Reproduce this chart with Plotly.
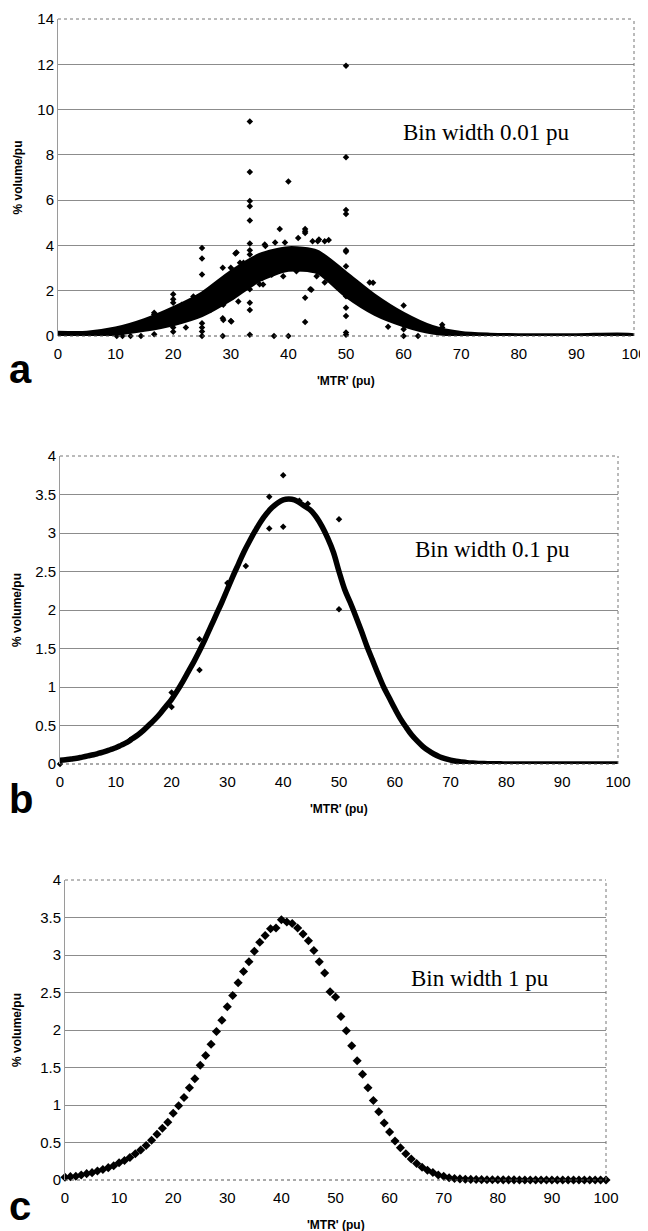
import plotly.graph_objects as go

# ---- panel a : bin width 0.01 pu (dense band + scattered outliers)
a_band_x = [0, 5, 10, 15, 20, 25, 30, 35, 40, 45, 50, 55, 60, 65, 70, 75, 80, 90, 100]
a_band_lo = [0.0, 0.02, 0.08, 0.25, 0.5, 0.9, 1.6, 2.45, 2.9, 2.8, 1.75, 0.95, 0.45, 0.13, 0.02, 0.0, 0.0, 0.0, 0.0]
a_band_hi = [0.17, 0.17, 0.35, 0.72, 1.25, 1.9, 2.85, 3.6, 3.9, 3.75, 2.8, 1.8, 1.0, 0.42, 0.15, 0.08, 0.06, 0.06, 0.06]

a_out_x = [33.3, 33.3, 33.3, 33.3, 33.3, 33.3, 33.3, 33.3, 33.3, 33.3, 33.3, 33.3, 33.3,
           40, 40,
           50, 50, 50, 50, 50, 50, 50, 50, 50, 50, 50, 50, 50, 50,
           25, 25, 25, 25, 25, 25, 25,
           20, 20, 20, 20, 20, 20, 20,
           16.7, 16.7, 16.7,
           28.6, 28.6, 28.6, 28.6, 30, 30, 30.8,
           42.9, 42.9, 42.9, 42.9, 42.9, 38.5, 37.5, 43.8,
           41.7, 44.2, 45.3, 47, 36, 32,
           60, 60, 60, 62.5, 66.7, 66.7, 57, 54.7,
           10.2, 11.2, 12.6, 14.4, 11.1, 14.3, 22.2, 22.2, 35, 35.5,
           16.8, 30.1, 31, 31.6, 32.2, 28.7, 28.7, 30.1, 31.3, 35.6,
           35.9, 37.7, 39.4, 37.1, 39.1, 41.4, 44, 45.1, 46.3, 44.9,
           46.3, 48.1, 54.1, 57.3, 58.8, 53, 17.7, 21.5, 26.5, 23.5]
a_out_y = [9.47, 7.24, 5.96, 5.73, 5.1, 4.08, 3.79, 3.6, 2.35, 2.06, 1.47, 1.15, 0.05,
           6.82, 0.0,
           11.94, 7.89, 5.57, 5.39, 3.79, 3.72, 3.08, 2.67, 2.2, 1.76, 1.25, 0.88, 0.15, 0.05,
           3.89, 3.42, 2.72, 0.56, 0.37, 0.2, 0.0,
           1.84, 1.62, 1.47, 0.81, 0.62, 0.37, 0.19,
           1.03, 0.95, 0.08,
           3.01, 1.76, 0.78, 0.0, 3.01, 0.66, 3.64,
           4.73, 4.63, 4.55, 1.69, 0.62, 4.73, 0.0, 2.06,
           4.33, 4.19, 4.26, 4.24, 3.97, 3.16,
           1.35, 0.3, 0.0, 0.0, 0.5, 0.37, 0.88, 2.35,
           0.0, 0.0, 0.0, 0.0, 0.18, 0.55, 1.4, 0.37, 2.28, 2.57,
           0.93, 2.41, 3.69, 3.24, 3.24, 1.38, 0.71, 0.64, 1.52, 2.27,
           4.04, 4.13, 4.13, 2.71, 2.64, 2.86, 2.04, 4.19, 4.19, 2.64,
           2.36, 2.27, 2.36, 0.41, 0.8, 1.82, 0.71, 1.38, 1.15, 1.75]

# ---- panel b : bin width 0.1 pu (smooth curve + a few outliers)
b_x = list(range(0, 101))
b_y = [0.05, 0.055, 0.065, 0.075, 0.09, 0.105, 0.12, 0.14, 0.16, 0.185,
       0.21, 0.245, 0.28, 0.33, 0.38, 0.44, 0.51, 0.58, 0.66, 0.75,
       0.84, 0.95, 1.07, 1.2, 1.33, 1.47, 1.62, 1.78, 1.94, 2.1,
       2.27, 2.44, 2.6, 2.76, 2.9, 3.03, 3.15, 3.25, 3.33, 3.39,
       3.43, 3.44, 3.43, 3.39, 3.34, 3.29, 3.2, 3.08, 2.93, 2.75,
       2.5, 2.27, 2.1, 1.92, 1.73, 1.53, 1.35, 1.17, 1.0, 0.86,
       0.72, 0.59, 0.48, 0.38, 0.3, 0.23, 0.175, 0.13, 0.095, 0.07,
       0.05, 0.035, 0.025, 0.017, 0.012, 0.008, 0.005, 0.004, 0.003, 0.002,
       0.001, 0.001, 0.001, 0.001, 0.0, 0.0, 0.0, 0.0, 0.0, 0.0,
       0.0, 0.0, 0.0, 0.0, 0.0, 0.0, 0.0, 0.0, 0.0, 0.0, 0.0]
b_out_x = [40, 40, 37.5, 37.5, 33.3, 25, 25, 20, 20, 50, 50, 44.4, 42.9, 30, 12.5, 0]
b_out_y = [3.75, 3.08, 3.47, 3.06, 2.57, 1.62, 1.22, 0.93, 0.74, 3.18, 2.01, 3.38, 3.42, 2.35, 0.31, 0.0]

# ---- panel c : bin width 1 pu
c_x = list(range(0, 101))
c_y = [0.036, 0.045, 0.05, 0.067, 0.085, 0.098, 0.12, 0.14, 0.165, 0.19,
       0.23, 0.26, 0.30, 0.35, 0.40, 0.46, 0.53, 0.61, 0.69, 0.77,
       0.89, 0.99, 1.10, 1.23, 1.35, 1.53, 1.66, 1.81, 1.98, 2.13,
       2.31, 2.46, 2.63, 2.78, 2.91, 3.05, 3.17, 3.26, 3.35, 3.36,
       3.47, 3.44, 3.42, 3.36, 3.28, 3.19, 3.06, 2.91, 2.76, 2.51,
       2.44, 2.18, 1.99, 1.79, 1.59, 1.41, 1.23, 1.06, 0.91, 0.76,
       0.64, 0.52, 0.43, 0.35, 0.28, 0.22, 0.17, 0.13, 0.10, 0.067,
       0.05, 0.03, 0.02, 0.015, 0.01, 0.008, 0.006, 0.005, 0.004, 0.003,
       0.003, 0.002, 0.002, 0.002, 0.001, 0.001, 0.001, 0.001, 0.001, 0,
       0, 0, 0, 0, 0, 0, 0, 0, 0, 0, 0]

# the page body has an 8px margin, so the figure is drawn 8px smaller
OFF = 8
W, H = 648 - OFF, 1231 - OFF
TICKFONT = dict(family="Liberation Sans, Arial", size=15, color="black")
TITLEFONT = dict(family="Liberation Sans, Arial", size=12, color="black")
SERIF = dict(family="Liberation Serif, Times New Roman", size=23, color="black")

def px_x(p):
    return (p - OFF) / W

def px_y(p):
    return 1 - (p - OFF) / H

# plot boxes in window pixels: (left, right, top, bottom)
boxes = [(58, 634, 19, 336), (60, 618, 456, 764), (65, 606, 880, 1180)]
yranges = [[0, 14], [0, 4], [0, 4]]
ydticks = [2, 0.5, 0.5]

fig = go.Figure()

# panel a
fig.add_trace(go.Scatter(x=a_band_x + a_band_x[::-1], y=a_band_hi + a_band_lo[::-1],
                         fill="toself", fillcolor="black", mode="lines",
                         line=dict(color="black", width=3, shape="spline", smoothing=0.7),
                         xaxis="x", yaxis="y", hoverinfo="skip"))
fig.add_trace(go.Scatter(x=a_out_x, y=a_out_y, mode="markers",
                         marker=dict(symbol="diamond", size=5, color="black"),
                         xaxis="x", yaxis="y", cliponaxis=False))

# panel b
fig.add_trace(go.Scatter(x=b_x, y=b_y, mode="lines",
                         line=dict(color="black", width=5.5, shape="spline"),
                         xaxis="x2", yaxis="y2", cliponaxis=False))
fig.add_trace(go.Scatter(x=b_out_x, y=b_out_y, mode="markers",
                         marker=dict(symbol="diamond", size=5, color="black"),
                         xaxis="x2", yaxis="y2", cliponaxis=False))

# panel c
fig.add_trace(go.Scatter(x=c_x, y=c_y, mode="markers",
                         marker=dict(symbol="diamond", size=7, color="black"),
                         xaxis="x3", yaxis="y3", cliponaxis=False))

layout = dict(width=W, height=H, showlegend=False,
              margin=dict(l=0, r=0, t=0, b=0, autoexpand=False),
              paper_bgcolor="white", plot_bgcolor="white")
for i, (l, r, t, b) in enumerate(boxes):
    sfx = "" if i == 0 else str(i + 1)
    layout["xaxis" + sfx] = dict(domain=[px_x(l), px_x(r)], range=[0, 100], dtick=10,
                                 anchor="y" + sfx, showgrid=False, zeroline=False,
                                 showline=False, ticks="", tickfont=TICKFONT,
                                 ticklabelstandoff=7, fixedrange=True, automargin=False)
    layout["yaxis" + sfx] = dict(domain=[px_y(b), px_y(t)], range=yranges[i], dtick=ydticks[i],
                                 anchor="x" + sfx, showgrid=True, gridcolor="#8c8c8c",
                                 gridwidth=1, zeroline=False, showline=True,
                                 linecolor="#9a9a9a", linewidth=1, ticks="",
                                 tickfont=TICKFONT, fixedrange=True, automargin=False)
fig.update_layout(**layout)

shapes = []
annotations = []
labels = ["a", "b", "c"]
label_bottom = [392, 822, 1229]
bin_text = ["Bin width 0.01 pu", "Bin width 0.1 pu", "Bin width 1 pu"]
bin_pos = [(486, 132), (492, 549), (480, 978)]
for i, (l, r, t, b) in enumerate(boxes):
    sfx = "" if i == 0 else str(i + 1)
    # dotted frame on top / right, dark bottom line
    shapes.append(dict(type="line", xref="x" + sfx + " domain", yref="y" + sfx + " domain",
                       x0=0, x1=1, y0=1, y1=1, line=dict(color="#777", width=1, dash="dot")))
    shapes.append(dict(type="line", xref="x" + sfx + " domain", yref="y" + sfx + " domain",
                       x0=1, x1=1, y0=0, y1=1, line=dict(color="#777", width=1, dash="dot")))
    shapes.append(dict(type="line", xref="x" + sfx + " domain", yref="y" + sfx + " domain",
                       x0=0, x1=1, y0=0, y1=0, line=dict(color="#555", width=1, dash="dot")))
    # y axis title
    annotations.append(dict(text="<b>% volume/pu</b>", textangle=-90, showarrow=False,
                            xref="paper", yref="paper", x=px_x(17), y=px_y((t + b) / 2),
                            xanchor="center", yanchor="middle", font=TITLEFONT))
    # x axis title
    annotations.append(dict(text="<b>'MTR' (pu)</b>", showarrow=False,
                            xref="paper", yref="paper", x=px_x((l + r) / 2), y=px_y(b + 45),
                            xanchor="center", yanchor="middle", font=TITLEFONT))
    # panel letter
    annotations.append(dict(text="<b>" + labels[i] + "</b>", showarrow=False,
                            xref="paper", yref="paper", x=px_x(8), y=px_y(label_bottom[i]),
                            xanchor="left", yanchor="bottom", borderpad=0,
                            font=dict(family="Liberation Sans, Arial", size=40, color="black")))
    # bin width text
    bx, by = bin_pos[i]
    annotations.append(dict(text=bin_text[i], showarrow=False, xref="paper", yref="paper",
                            x=px_x(bx), y=px_y(by), xanchor="center", yanchor="middle",
                            font=SERIF))
fig.update_layout(shapes=shapes, annotations=annotations)

fig.write_html("out.html")
